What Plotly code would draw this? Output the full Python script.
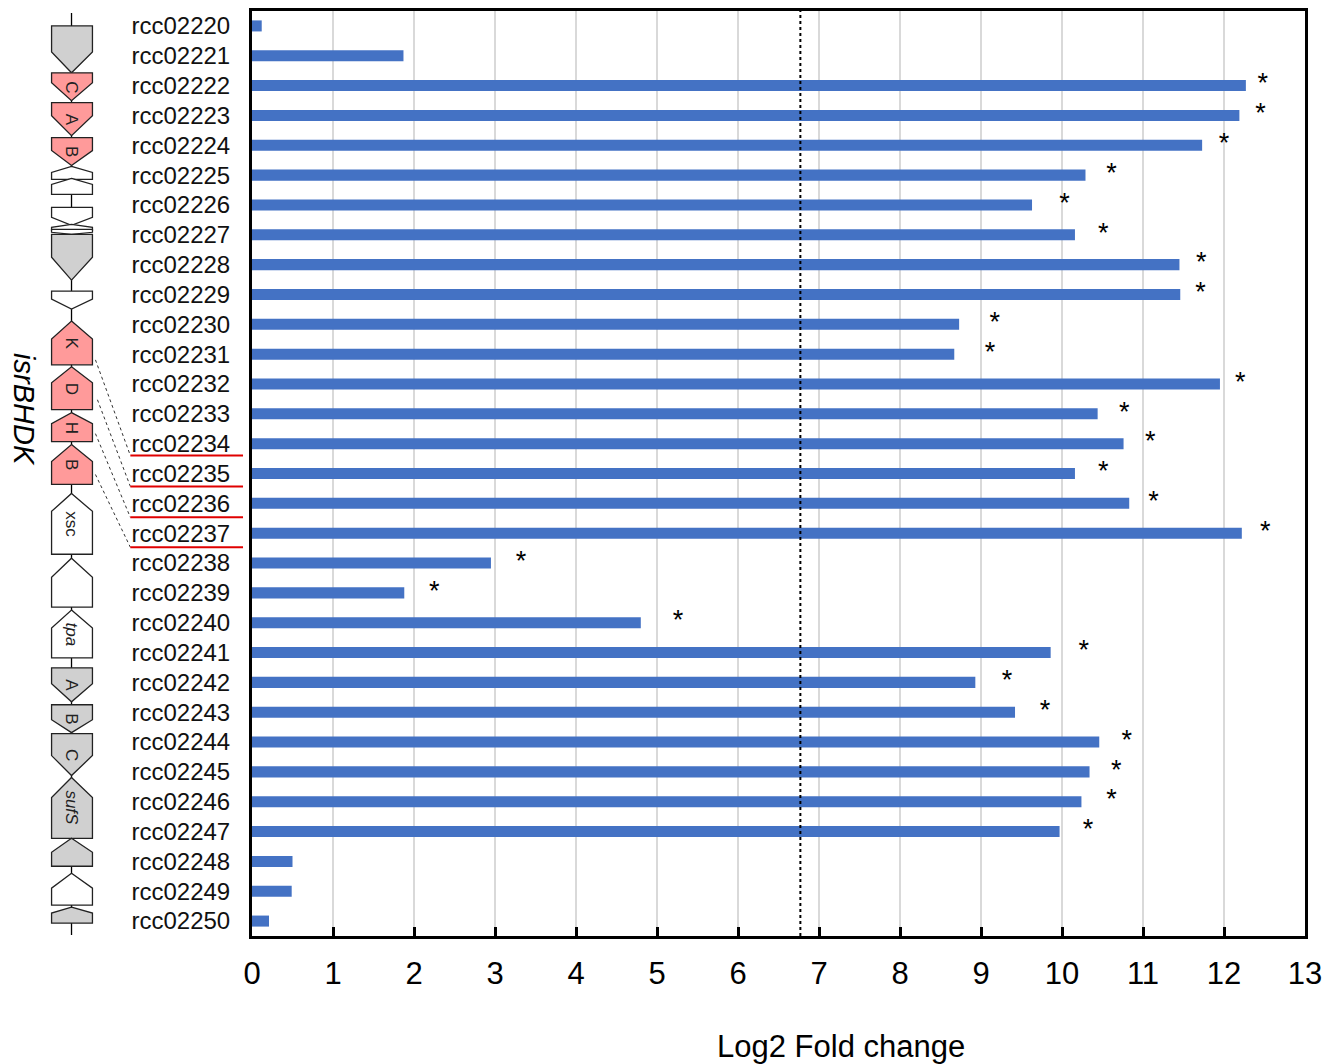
import plotly.graph_objects as go

# ---------------- data ----------------
genes = [f"rcc0{n}" for n in range(2220, 2251)]
log2fc = [0.12, 1.87, 12.27, 12.19, 11.73, 10.29, 9.63, 10.16, 11.45, 11.46,
          8.73, 8.67, 11.95, 10.44, 10.76, 10.16, 10.83, 12.22, 2.95, 1.88,
          4.80, 9.86, 8.93, 9.42, 10.46, 10.34, 10.24, 9.97, 0.50, 0.49, 0.21]
sig_genes = ["rcc02222", "rcc02223", "rcc02224", "rcc02225", "rcc02226", "rcc02227",
             "rcc02228", "rcc02229", "rcc02230", "rcc02231", "rcc02232", "rcc02233",
             "rcc02234", "rcc02235", "rcc02236", "rcc02237", "rcc02238", "rcc02239",
             "rcc02240", "rcc02241", "rcc02242", "rcc02243", "rcc02244", "rcc02245",
             "rcc02246", "rcc02247"]
sig_pos = [12.48, 12.45, 12.00, 10.61, 10.03, 10.51, 11.72, 11.71, 9.17, 9.11,
           12.20, 10.77, 11.09, 10.51, 11.13, 12.51, 3.32, 2.25, 5.26, 10.27,
           9.32, 9.79, 10.80, 10.67, 10.61, 10.32]
threshold = 6.77
underlined = ["rcc02234", "rcc02235", "rcc02236", "rcc02237"]
x_ticks = list(range(0, 14))

# ---------------- layout geometry (pixels) ----------------
W, H = 1330, 1064
L, R, T, B = 252, 1308, 8, 936

def px(x):
    return (x - L) / (R - L)

def py(y):
    return (B - y) / (B - T)

PINK = "#ff9a9a"
GRAY = "#d0d0d0"
WHITE = "#ffffff"

# gene map: (start_y, shoulder_y, end_y, direction, fill, label, italic)
gene_map = [
    (23, 49, 70, "down", GRAY, "", False),
    (70, 80, 98, "down", PINK, "C", False),
    (100, 113, 133, "down", PINK, "A", False),
    (135, 148, 163, "down", PINK, "B", False),
    (164, 170, 177, "up", WHITE, "", False),
    (176, 182, 192, "up", WHITE, "", False),
    (205, 215, 223, "down", WHITE, "", False),
    (222, 225, 228, "up", WHITE, "", False),
    (227, 230, 232, "down", WHITE, "", False),
    (232, 255, 278, "down", GRAY, "", False),
    (289, 297, 307, "down", WHITE, "", False),
    (319, 337, 363, "up", PINK, "K", False),
    (365, 381, 408, "up", PINK, "D", False),
    (411, 422, 440, "up", PINK, "H", False),
    (443, 460, 483, "up", PINK, "B", False),
    (492, 510, 553, "up", WHITE, "xsc", False),
    (557, 576, 606, "up", WHITE, "", False),
    (609, 627, 657, "up", WHITE, "tpa", True),
    (667, 683, 701, "down", GRAY, "A", False),
    (704, 719, 732, "down", GRAY, "B", False),
    (733, 755, 775, "down", GRAY, "C", False),
    (777, 797, 838, "up", GRAY, "sufS", True),
    (838, 852, 866, "up", GRAY, "", False),
    (873, 888, 905, "up", WHITE, "", False),
    (907, 913, 923, "up", GRAY, "", False),
]
GX0, GXC, GX1 = 51, 71, 92

fig = go.Figure()

fig.add_trace(go.Bar(
    x=log2fc, y=genes, orientation="h",
    marker=dict(color="#4472c4", line=dict(width=0)),
    width=0.37, hoverinfo="x+y", showlegend=False,
))

fig.add_trace(go.Scatter(
    x=sig_pos, y=sig_genes, mode="text", text=["*"] * len(sig_genes),
    textposition="middle center",
    textfont=dict(size=27, color="black", family="Liberation Sans, Arial"),
    showlegend=False, hoverinfo="skip",
))

shapes = []
shapes.append(dict(type="line", xref="x", yref="paper", x0=threshold, x1=threshold,
                   y0=0, y1=1, line=dict(color="black", width=2, dash="dot"), layer="above"))

shapes.append(dict(type="line", xref="paper", yref="paper", x0=px(GXC), x1=px(GXC),
                   y0=py(10), y1=py(935), line=dict(color="black", width=1.3)))

annotations = []
for (s, m, e, d, fill, lab, ital) in gene_map:
    if d == "down":
        pts = [(GX0, s), (GX1, s), (GX1, m), (GXC, e), (GX0, m)]
    else:
        pts = [(GXC, s), (GX1, m), (GX1, e), (GX0, e), (GX0, m)]
    path = "M " + " L ".join(f"{px(x):.5f},{py(y):.5f}" for x, y in pts) + " Z"
    shapes.append(dict(type="path", xref="paper", yref="paper", path=path,
                       fillcolor=fill, line=dict(color="#222222", width=1.3)))
    if lab:
        cy = (s + e) / 2
        txt = f"<i>{lab}</i>" if ital else lab
        annotations.append(dict(x=px(GXC), y=py(cy), xref="paper", yref="paper",
                                text=txt, showarrow=False, textangle=90,
                                font=dict(size=17, color="#222222",
                                          family="Liberation Sans, Arial"),
                                xanchor="center", yanchor="middle"))

connectors = [((95, 358), (130, 454)), ((97, 398), (130, 485)),
              ((95, 432), (130, 516)), ((95, 473), (130, 546))]
for (a, b), name in zip(connectors, underlined):
    shapes.append(dict(type="line", xref="paper", yref="paper",
                       x0=px(a[0]), y0=py(a[1]), x1=px(b[0]), y1=py(b[1]),
                       line=dict(color="#333333", width=1, dash="dot")))
    shapes.append(dict(type="line", xref="paper", yref="paper",
                       x0=px(130), x1=px(243), y0=py(b[1]), y1=py(b[1]),
                       line=dict(color="#e00000", width=2)))

annotations.append(dict(x=px(24), y=py(408), xref="paper", yref="paper",
                        text="<i>isrBHDK</i>", showarrow=False, textangle=90,
                        font=dict(size=29, color="black", family="Liberation Sans, Arial"),
                        xanchor="center", yanchor="middle"))

annotations.append(dict(x=px(843), y=py(1047), xref="paper", yref="paper",
                        text="Log2 Fold change", showarrow=False,
                        font=dict(size=31, color="black", family="Liberation Sans, Arial"),
                        xanchor="center", yanchor="middle"))

fig.update_layout(
    width=W, height=H,
    margin=dict(l=L, r=W - R, t=T, b=H - B, pad=0),
    plot_bgcolor="white", paper_bgcolor="white",
    font=dict(family="Liberation Sans, Arial", color="black"),
    shapes=shapes, annotations=annotations,
    bargap=0.6,
)
fig.update_xaxes(
    range=[0, 13], tickvals=x_ticks, ticktext=[str(t) for t in x_ticks],
    showgrid=True, gridcolor="#d9d9d9", gridwidth=2,
    showline=True, mirror=True, linecolor="black", linewidth=3,
    ticks="inside", ticklen=9, tickwidth=3, tickcolor="black",
    tickfont=dict(size=31, color="black"), ticklabelstandoff=8,
    zeroline=False, fixedrange=True,
)
fig.update_yaxes(
    categoryorder="array", categoryarray=genes, autorange="reversed",
    showline=True, mirror=True, linecolor="black", linewidth=3,
    showgrid=False, ticks="", tickfont=dict(size=24, color="#111111"),
    ticklabelstandoff=14, zeroline=False, fixedrange=True,
)

fig.write_html("out.html")
